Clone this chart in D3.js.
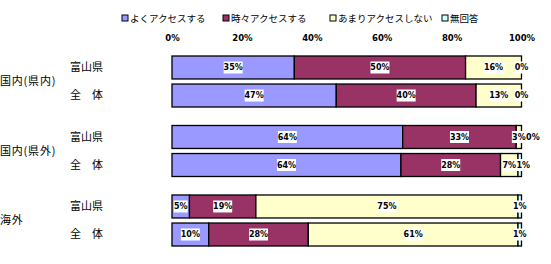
<!DOCTYPE html>
<html><head><meta charset="utf-8">
<script src="https://cdn.jsdelivr.net/npm/d3@7/dist/d3.min.js"></script>
<style>body{margin:0;background:#fff}svg{display:block}</style>
</head><body><svg id="c" width="551" height="264"></svg>
<script>
const groups = ["国内(県内)", "国内(県外)", "海外"];
const rowsInGroup = ["富山県", "全　体"];
const series = ["よくアクセスする", "時々アクセスする", "あまりアクセスしない", "無回答"];
const colors = ["#9999FF", "#993366", "#FFFFCC", "#CCFFFF"];
const ticks = [0, 20, 40, 60, 80, 100];
// bar widths (%) per row, in order of groups x rowsInGroup
const values = [
  [35, 49, 16, 0],
  [47, 40, 13, 0],
  [66, 32.5, 1.5, 0],
  [65.5, 28.5, 5, 1],
  [5, 19, 75, 1],
  [10.5, 28.5, 60, 1]
];
const labels = [
  ["35%", "50%", "16%", "0%"],
  ["47%", "40%", "13%", "0%"],
  ["64%", "33%", "3%", "0%"],
  ["64%", "28%", "7%", "1%"],
  ["5%", "19%", "75%", "1%"],
  ["10%", "28%", "61%", "1%"]
];

const svg = d3.select("#c");
const jp = "'Noto Sans CJK JP', sans-serif";
const x = d3.scaleLinear().domain([0, 100]).range([172, 521.5]);
const gY = d3.scaleBand().domain(groups).range([56, 246]).paddingInner(0.266);
const rY = d3.scaleBand().domain(rowsInGroup).range([0, gY.bandwidth()]).paddingInner(0.18);

// legend
const legX = [122, 223, 330, 442];
const leg = svg.append("g");
series.forEach((s, i) => {
  leg.append("rect").attr("x", legX[i]).attr("y", 15).attr("width", 6).attr("height", 6)
    .attr("fill", colors[i]).attr("stroke", "#000").attr("stroke-width", 1);
  leg.append("text").attr("x", legX[i] + 8).attr("y", 22).text(s)
    .attr("font-family", jp).attr("font-size", 9.5).attr("fill", "#000");
});

// top axis
const ax = svg.append("g").attr("transform", "translate(0,41)")
  .call(d3.axisTop(x).tickValues(ticks).tickFormat(d => d + "%").tickSize(0).tickPadding(0));
ax.select(".domain").remove();
ax.selectAll("text").attr("font-family", "'DejaVu Sans', sans-serif").attr("font-size", 8.5)
  .attr("font-weight", "bold").attr("fill", "#000");

// group labels
groups.forEach((g, gi) => {
  svg.append("text").attr("x", 0).attr("y", gY(g) + gY.bandwidth() / 2).attr("dy", "0.35em")
    .text(g).attr("font-family", jp).attr("font-size", 11).attr("letter-spacing", 0.8).attr("fill", "#000");
  rowsInGroup.forEach((r, ri) => {
    const idx = gi * rowsInGroup.length + ri;
    const y0 = gY(g) + rY(r), h = rY.bandwidth();
    svg.append("text").attr("x", 70).attr("y", y0 + h / 2).attr("dy", "0.35em")
      .text(r).attr("font-family", jp).attr("font-size", 11).attr("fill", "#000");
    let acc = 0;
    const segs = values[idx].map((v, si) => { const s = { x0: acc, x1: acc + v, si }; acc += v; return s; });
    const row = svg.append("g");
    row.selectAll("rect").data(segs).join("rect")
      .attr("x", d => x(d.x0)).attr("y", y0).attr("width", d => x(d.x1) - x(d.x0)).attr("height", h)
      .attr("fill", d => colors[d.si]).attr("stroke", "#000").attr("stroke-width", 1.3);
    let prevRight = -1e9;
    segs.forEach(d => {
      const t = labels[idx][d.si];
      const w = t.length * 5 + 4;
      let cx = (x(d.x0) + x(d.x1)) / 2;
      if (cx - w / 2 < prevRight) cx = prevRight + w / 2;
      prevRight = cx + w / 2;
      row.append("rect").attr("x", cx - w / 2).attr("y", y0 + h / 2 - 6).attr("width", w).attr("height", 12)
        .attr("fill", "#fff");
      row.append("text").attr("x", cx).attr("y", y0 + h / 2).attr("dy", "0.35em").attr("text-anchor", "middle")
        .text(t).attr("font-family", "'DejaVu Sans', sans-serif").attr("font-size", 8)
        .attr("font-weight", "bold").attr("fill", "#000");
    });
  });
});
</script></body></html>
